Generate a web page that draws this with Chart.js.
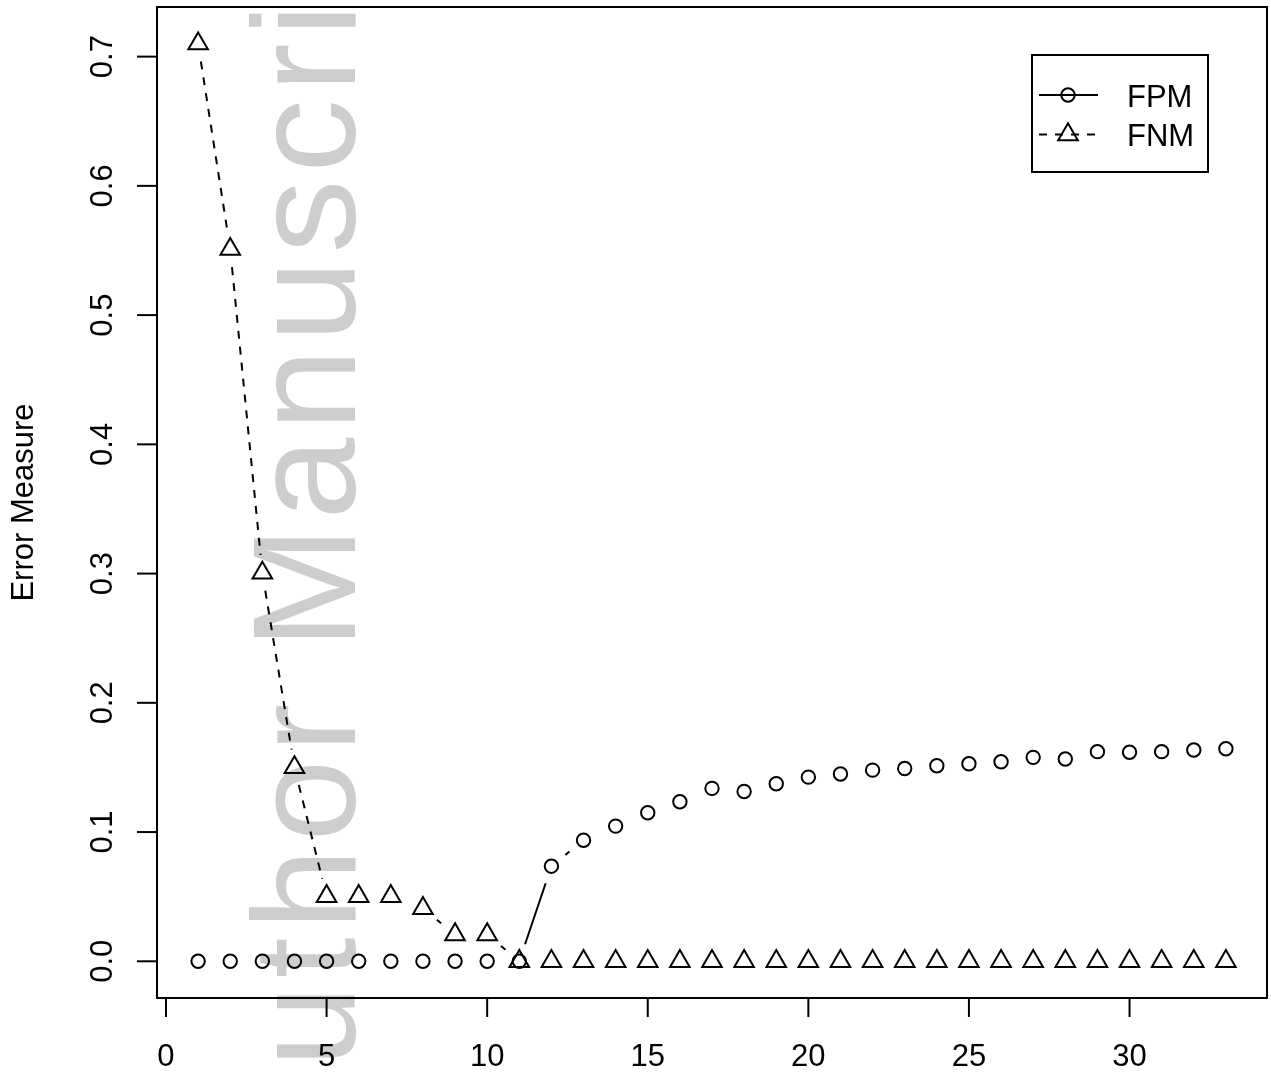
<!DOCTYPE html>
<html>
<head>
<meta charset="utf-8">
<script src="https://cdn.jsdelivr.net/npm/chart.js@4.4.1/dist/chart.umd.min.js"></script>
<style>
  body { margin: 0; background: #fff; }
  canvas { display: block; }
</style>
</head>
<body>
<canvas id="errChart" width="1271" height="1074"></canvas>
<script>
const steps = [1, 2, 3, 4, 5, 6, 7, 8, 9, 10, 11, 12, 13, 14, 15, 16, 17,
  18, 19, 20, 21, 22, 23, 24, 25, 26, 27, 28, 29, 30, 31, 32, 33];
const fpm = [0, 0, 0, 0, 0, 0, 0, 0, 0, 0, 0, 0.0736, 0.0937, 0.1046, 0.1149,
  0.1234, 0.1338, 0.1314, 0.1374, 0.1425, 0.1449, 0.1479, 0.1492, 0.1513,
  0.1529, 0.1544, 0.1578, 0.1565, 0.1622, 0.1617, 0.1622, 0.1635, 0.1645];
const fnm = [0.71, 0.551, 0.3005, 0.150, 0.0503, 0.0503, 0.0503, 0.041, 0.0207,
  0.0207, 0, 0, 0, 0, 0, 0, 0, 0, 0, 0, 0, 0, 0, 0, 0, 0, 0, 0, 0, 0, 0, 0, 0];
const xTicks = [0, 5, 10, 15, 20, 25, 30];
const yTicks = [0.0, 0.1, 0.2, 0.3, 0.4, 0.5, 0.6, 0.7];
const seriesNames = ["FPM", "FNM"];
const yTitle = "Error Measure";
const watermark = "Author Manuscript";

const FONT = "31px 'Liberation Sans', Arial, sans-serif";
const GAP = 18; // R type="b" gap around points

const toPts = (ys) => steps.map((x, i) => ({ x: x, y: ys[i] }));

// R-style frame, axes, labels and legend
const rPlot = {
  id: "rPlot",
  beforeDraw(chart) {
    const ctx = chart.ctx;
    ctx.save();
    ctx.fillStyle = "#fff";
    ctx.fillRect(0, 0, chart.width, chart.height);
    // watermark, reading bottom to top
    ctx.translate(355, 1172);
    ctx.rotate(-Math.PI / 2);
    ctx.font = "147px 'Liberation Sans', Arial, sans-serif";
    ctx.fillStyle = "#cdcdcd";
    ctx.textBaseline = "alphabetic";
    let pos = 0;
    for (const ch of watermark) {
      ctx.fillText(ch, pos, 0);
      pos += ctx.measureText(ch).width + 7;
    }
    ctx.restore();
  },
  beforeDatasetsDraw(chart) {
    const ctx = chart.ctx;
    ctx.save();
    ctx.strokeStyle = "#000";
    ctx.lineWidth = 2;
    chart.data.datasets.forEach((ds, i) => {
      const pts = chart.getDatasetMeta(i).data;
      ctx.setLineDash(ds.rDash);
      for (let j = 0; j < pts.length - 1; j++) {
        const a = pts[j], b = pts[j + 1];
        const dx = b.x - a.x, dy = b.y - a.y;
        const d = Math.hypot(dx, dy);
        if (d <= 2 * GAP) continue;
        const ux = dx / d, uy = dy / d;
        ctx.beginPath();
        ctx.moveTo(a.x + ux * GAP, a.y + uy * GAP);
        ctx.lineTo(b.x - ux * GAP, b.y - uy * GAP);
        ctx.stroke();
      }
    });
    ctx.restore();
  },
  afterDraw(chart) {
    const ctx = chart.ctx;
    const area = chart.chartArea;
    const xs = chart.scales.x, ys = chart.scales.y;
    ctx.save();
    ctx.strokeStyle = "#000";
    ctx.fillStyle = "#000";
    ctx.lineWidth = 2;
    ctx.setLineDash([]);
    ctx.strokeRect(area.left, area.top, area.right - area.left, area.bottom - area.top);

    ctx.font = FONT;
    // x axis
    ctx.textAlign = "center";
    ctx.textBaseline = "alphabetic";
    xTicks.forEach((t) => {
      const px = xs.getPixelForValue(t);
      ctx.beginPath();
      ctx.moveTo(px, area.bottom);
      ctx.lineTo(px, area.bottom + 19);
      ctx.stroke();
      ctx.fillText(String(t), px, 1066);
    });
    // y axis
    yTicks.forEach((t) => {
      const py = ys.getPixelForValue(t);
      ctx.beginPath();
      ctx.moveTo(area.left, py);
      ctx.lineTo(area.left - 20, py);
      ctx.stroke();
      ctx.save();
      ctx.translate(112, py);
      ctx.rotate(-Math.PI / 2);
      ctx.fillText(t.toFixed(1), 0, 0);
      ctx.restore();
    });
    ctx.save();
    ctx.translate(33, (area.top + area.bottom) / 2);
    ctx.rotate(-Math.PI / 2);
    ctx.fillText(yTitle, 0, 0);
    ctx.restore();

    // legend
    ctx.strokeRect(1032, 55, 176, 117);
    const rows = [95, 134.5];
    ctx.textAlign = "left";
    chart.data.datasets.forEach((ds, i) => {
      const ly = rows[i];
      ctx.setLineDash(ds.rDash);
      ctx.beginPath();
      ctx.moveTo(1039, ly);
      ctx.lineTo(1098, ly);
      ctx.stroke();
      ctx.setLineDash([]);
      ctx.beginPath();
      if (ds.pointStyle === "circle") {
        ctx.arc(1068, ly, ds.pointRadius, 0, Math.PI * 2);
      } else {
        const r = ds.pointRadius;
        ctx.moveTo(1068, ly - r);
        ctx.lineTo(1068 + 0.866 * r, ly + 0.5 * r);
        ctx.lineTo(1068 - 0.866 * r, ly + 0.5 * r);
        ctx.closePath();
      }
      ctx.stroke();
      ctx.fillText(seriesNames[i], 1127, ly + 11.5);
    });
    ctx.restore();
  },
};

new Chart(document.getElementById("errChart"), {
  type: "line",
  data: {
    datasets: [
      {
        label: seriesNames[0],
        data: toPts(fpm),
        showLine: false,
        pointStyle: "circle",
        pointRadius: 6.7,
        pointBorderWidth: 2,
        pointBorderColor: "#000",
        pointBackgroundColor: "rgba(0,0,0,0)",
        rDash: [],
      },
      {
        label: seriesNames[1],
        data: toPts(fnm),
        showLine: false,
        pointStyle: "triangle",
        pointRadius: 11.3,
        pointBorderWidth: 2,
        pointBorderColor: "#000",
        pointBackgroundColor: "rgba(0,0,0,0)",
        rDash: [8, 8],
      },
    ],
  },
  options: {
    responsive: false,
    animation: false,
    devicePixelRatio: 1,
    layout: {
      autoPadding: false,
      padding: { left: 157, right: 4, top: 7, bottom: 76 },
    },
    scales: {
      x: { type: "linear", display: false, min: -0.28, max: 34.28 },
      y: { type: "linear", display: false, min: -0.0284, max: 0.7384 },
    },
    plugins: {
      legend: { display: false },
      tooltip: { enabled: false },
    },
  },
  plugins: [rPlot],
});
</script>
</body>
</html>
